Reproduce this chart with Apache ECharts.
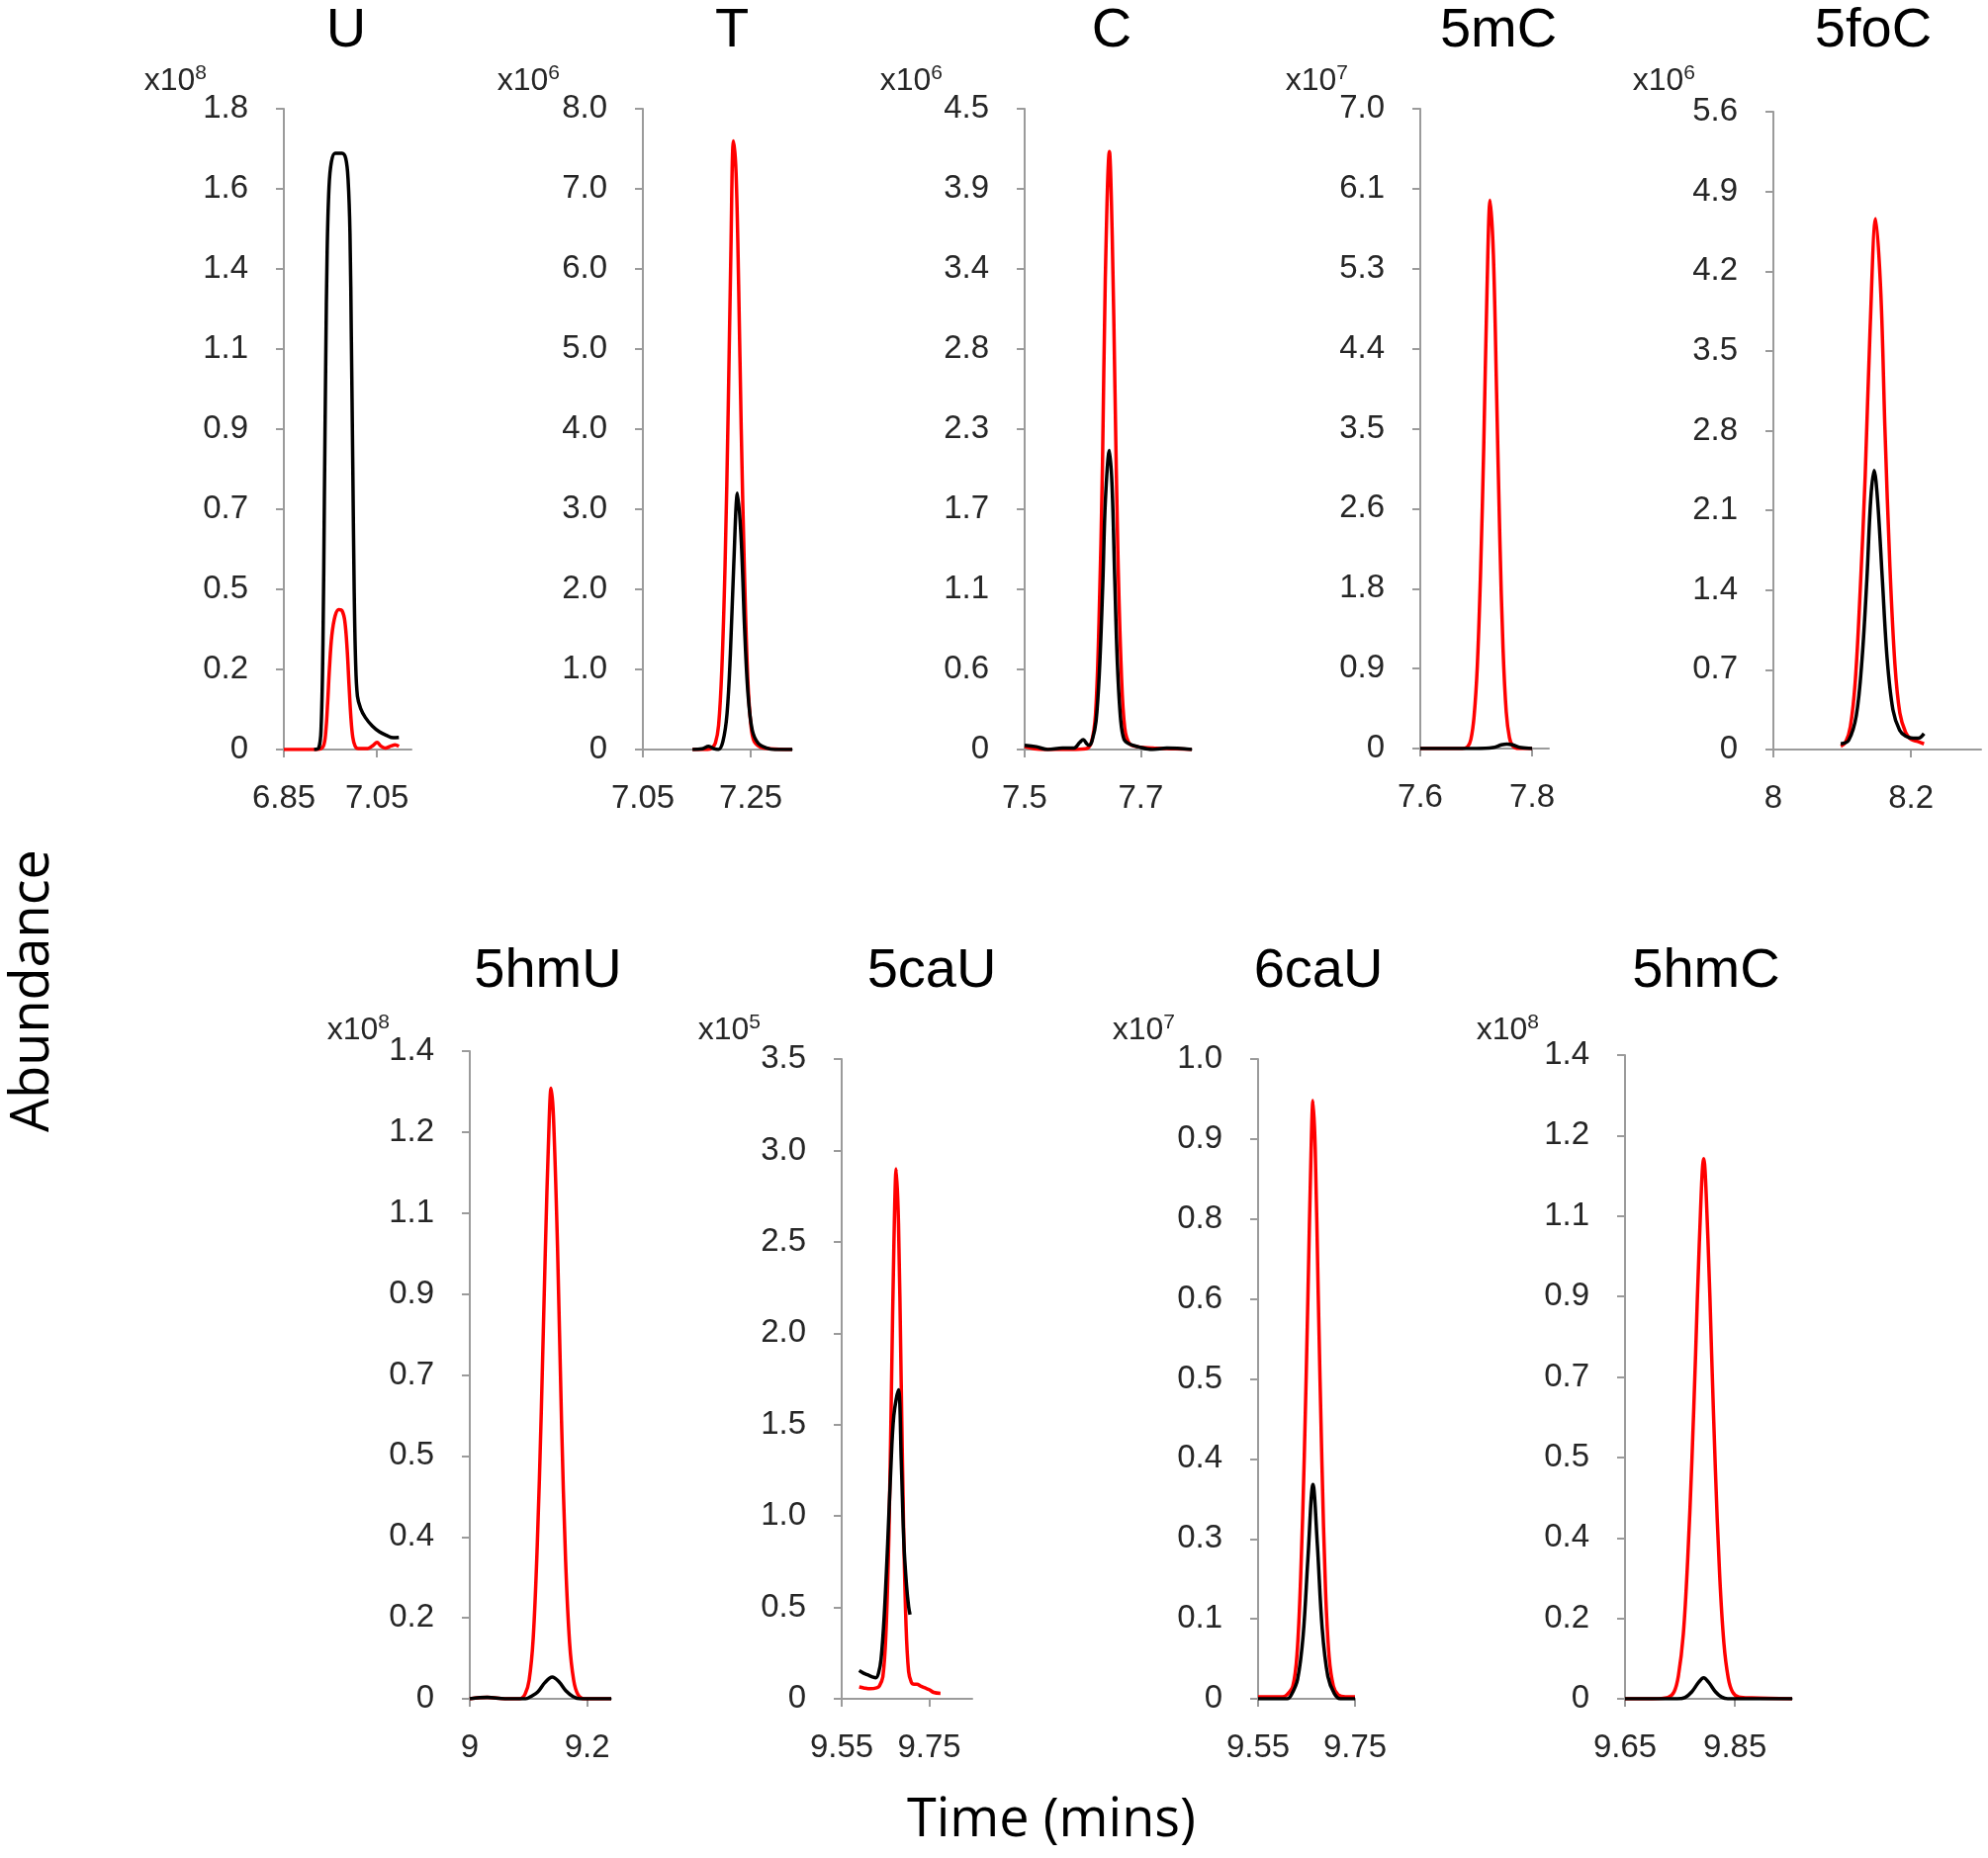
<!DOCTYPE html>
<html><head><meta charset="utf-8">
<script src="https://cdn.jsdelivr.net/npm/echarts@6/dist/echarts.min.js"></script>
<style>html,body{margin:0;padding:0;background:#fff;}#c{width:2010px;height:1879px;}</style>
</head><body><div id="c"></div>
<script>
// ---------- DATA (time in mins, abundance in units of the panel's x10^n) ----------
const panelNames = ['U','T','C','5mC','5foC','5hmU','5caU','6caU','5hmC'];
const exponents  = [8,6,6,7,6,8,5,7,8];

const yTicks_U    = ['0','0.2','0.5','0.7','0.9','1.1','1.4','1.6','1.8'];
const yTicks_T    = ['0','1.0','2.0','3.0','4.0','5.0','6.0','7.0','8.0'];
const yTicks_C    = ['0','0.6','1.1','1.7','2.3','2.8','3.4','3.9','4.5'];
const yTicks_5mC  = ['0','0.9','1.8','2.6','3.5','4.4','5.3','6.1','7.0'];
const yTicks_5foC = ['0','0.7','1.4','2.1','2.8','3.5','4.2','4.9','5.6'];
const yTicks_5hmU = ['0','0.2','0.4','0.5','0.7','0.9','1.1','1.2','1.4'];
const yTicks_5caU = ['0','0.5','1.0','1.5','2.0','2.5','3.0','3.5'];
const yTicks_6caU = ['0','0.1','0.3','0.4','0.5','0.6','0.8','0.9','1.0'];
const yTicks_5hmC = ['0','0.2','0.4','0.5','0.7','0.9','1.1','1.2','1.4'];
const yMax = [1.8, 8.0, 4.5, 7.0, 5.6, 1.4, 3.5, 1.0, 1.4];

const xTicks_U    = ['6.85','7.05'];
const xTicks_T    = ['7.05','7.25'];
const xTicks_C    = ['7.5','7.7'];
const xTicks_5mC  = ['7.6','7.8'];
const xTicks_5foC = ['8','8.2'];
const xTicks_5hmU = ['9','9.2'];
const xTicks_5caU = ['9.55','9.75'];
const xTicks_6caU = ['9.55','9.75'];
const xTicks_5hmC = ['9.65','9.85'];
const xMax = [7.124, 7.327, 7.788, 7.83, 8.302, 9.241, 9.848, 9.75, 9.954];

const U_red = [[6.85,0],[6.9,0],[6.925,0.001],[6.935,0.01],[6.94,0.05],[6.944,0.13],[6.948,0.23],[6.953,0.32],[6.96,0.375],[6.968,0.393],[6.975,0.39],[6.981,0.36],[6.986,0.28],[6.99,0.18],[6.994,0.09],[6.998,0.035],[7.003,0.01],[7.01,0.003],[7.03,0.003],[7.042,0.012],[7.05,0.02],[7.058,0.01],[7.068,0.004],[7.08,0.01],[7.089,0.013],[7.097,0.009]];
const U_black = [[6.915,0],[6.925,0.005],[6.93,0.06],[6.934,0.3],[6.937,0.7],[6.94,1.1],[6.943,1.4],[6.947,1.58],[6.952,1.65],[6.96,1.675],[6.975,1.675],[6.983,1.66],[6.988,1.6],[6.992,1.45],[6.995,1.15],[6.998,0.8],[7.001,0.45],[7.004,0.25],[7.008,0.15],[7.015,0.115],[7.025,0.09],[7.04,0.066],[7.055,0.05],[7.07,0.04],[7.085,0.033],[7.097,0.034]];

const T_red = [[7.142,0],[7.17,0],[7.178,0.02],[7.1844,0.08],[7.1904,0.3],[7.1964,1.0],[7.2024,2.3],[7.2084,4.3],[7.2132,6.2],[7.218,7.6],[7.2228,7.2],[7.2276,5.8],[7.2324,4.0],[7.2384,2.2],[7.2444,0.9],[7.2504,0.3],[7.2564,0.1],[7.2684,0.03],[7.285,0.01],[7.327,0]];
const T_black = [[7.142,0],[7.16,0.01],[7.172,0.04],[7.182,0.01],[7.19,0],[7.1984,0.1],[7.2061,0.45],[7.2123,1.2],[7.2185,2.3],[7.2255,3.2],[7.2325,2.6],[7.2387,1.5],[7.2449,0.7],[7.2526,0.25],[7.2636,0.08],[7.2791,0.02],[7.295,0],[7.327,0]];

const C_red = [[7.5,0.02],[7.53,0],[7.58,0],[7.605,0.005],[7.6149,0.05],[7.6221,0.25],[7.6281,0.9],[7.6341,2.0],[7.6389,3.3],[7.646,4.2],[7.6509,3.6],[7.6557,2.5],[7.6605,1.4],[7.6665,0.55],[7.6725,0.15],[7.6809,0.04],[7.695,0.02],[7.72,0.01],[7.76,0.005],[7.788,0]];
const C_black = [[7.5,0.03],[7.52,0.02],[7.54,0],[7.565,0.01],[7.585,0.01],[7.595,0.05],[7.601,0.07],[7.607,0.04],[7.611,0.03],[7.6161,0.06],[7.623,0.2],[7.6288,0.55],[7.6345,1.15],[7.6391,1.75],[7.646,2.1],[7.6506,1.85],[7.6552,1.2],[7.6598,0.6],[7.6656,0.2],[7.6713,0.07],[7.68,0.04],[7.695,0.02],[7.72,0],[7.745,0.01],[7.788,0]];

const mC_red = [[7.6,0],[7.675,0],[7.6847,0.02],[7.6905,0.1],[7.6962,0.35],[7.702,0.9],[7.7077,1.9],[7.7135,3.3],[7.7193,5.0],[7.725,6.0],[7.7308,5.4],[7.7365,3.9],[7.7423,2.3],[7.748,1.1],[7.7538,0.4],[7.7595,0.12],[7.7653,0.03],[7.7768,0],[7.8,0]];
const mC_black = [[7.6,0],[7.7,0],[7.73,0.01],[7.745,0.04],[7.755,0.05],[7.765,0.04],[7.78,0.01],[7.8,0]];

const foC_red = [[8.098,0.03],[8.1047,0.06],[8.1119,0.2],[8.1191,0.6],[8.1263,1.4],[8.1335,2.4],[8.1407,3.7],[8.1487,4.66],[8.1563,4.0],[8.1623,2.8],[8.1695,1.6],[8.1767,0.75],[8.1839,0.32],[8.1923,0.15],[8.2,0.09],[8.21,0.07],[8.219,0.05]];
const foC_black = [[8.098,0.05],[8.1094,0.08],[8.1206,0.3],[8.129,0.8],[8.136,1.5],[8.1416,2.2],[8.1465,2.45],[8.1514,2.2],[8.1584,1.5],[8.1654,0.8],[8.1738,0.35],[8.1836,0.17],[8.192,0.12],[8.203,0.1],[8.211,0.1],[8.219,0.14]];

const hmU_red = [[9.0,0],[9.03,0.003],[9.06,0],[9.085,0],[9.0942,0.01],[9.1011,0.04],[9.108,0.13],[9.1149,0.33],[9.1218,0.62],[9.1287,0.97],[9.1345,1.22],[9.1385,1.32],[9.1425,1.26],[9.1494,0.98],[9.1563,0.6],[9.1632,0.3],[9.1701,0.12],[9.177,0.04],[9.184,0.01],[9.195,0],[9.241,0]];
const hmU_black = [[9.0,0],[9.03,0.003],[9.06,0],[9.095,0],[9.1039,0.005],[9.1159,0.015],[9.1279,0.035],[9.1405,0.047],[9.1519,0.037],[9.1639,0.017],[9.1759,0.005],[9.188,0],[9.241,0]];

const caU_red = [[9.59,0.065],[9.6,0.06],[9.615,0.055],[9.63,0.06],[9.636,0.07],[9.644,0.12],[9.6509,0.35],[9.6578,0.9],[9.6636,1.7],[9.6693,2.5],[9.6745,2.9],[9.6797,2.6],[9.6854,1.8],[9.6912,0.95],[9.6969,0.4],[9.7027,0.15],[9.709,0.09],[9.715,0.08],[9.722,0.08],[9.73,0.07],[9.74,0.06],[9.75,0.05],[9.76,0.035],[9.7755,0.03]];
const caU_black = [[9.59,0.155],[9.6,0.14],[9.61,0.13],[9.62,0.12],[9.628,0.115],[9.634,0.14],[9.64,0.22],[9.647,0.45],[9.655,0.85],[9.662,1.25],[9.669,1.55],[9.6795,1.69],[9.686,1.3],[9.692,0.85],[9.698,0.62],[9.703,0.5],[9.706,0.46]];

const c6aU_red = [[9.55,0.003],[9.6,0.003],[9.609,0.006],[9.6217,0.02],[9.6304,0.07],[9.6379,0.19],[9.6454,0.38],[9.6529,0.63],[9.6592,0.85],[9.6633,0.935],[9.6679,0.86],[9.6742,0.63],[9.6817,0.37],[9.6892,0.17],[9.6967,0.065],[9.7054,0.02],[9.7155,0.006],[9.73,0.003],[9.75,0.003]];
const c6aU_black = [[9.55,0],[9.61,0],[9.6178,0.005],[9.6314,0.03],[9.6431,0.1],[9.6529,0.22],[9.6633,0.335],[9.6724,0.24],[9.6823,0.11],[9.694,0.035],[9.7075,0.008],[9.72,0],[9.75,0]];

const hmC_red = [[9.65,0],[9.7,0],[9.728,0.003],[9.7392,0.015],[9.7471,0.05],[9.756,0.14],[9.7639,0.3],[9.7717,0.52],[9.7784,0.75],[9.7851,0.99],[9.7931,1.175],[9.8008,1.0],[9.8075,0.75],[9.8143,0.5],[9.8221,0.27],[9.8299,0.12],[9.8378,0.045],[9.8456,0.015],[9.857,0.004],[9.88,0.002],[9.954,0]];
const hmC_black = [[9.65,0],[9.745,0],[9.7594,0.003],[9.7714,0.015],[9.7834,0.035],[9.793,0.0456],[9.8026,0.035],[9.8146,0.015],[9.8254,0.004],[9.837,0],[9.954,0]];

// ---------- LAYOUT ----------
const yTickSets = [yTicks_U,yTicks_T,yTicks_C,yTicks_5mC,yTicks_5foC,yTicks_5hmU,yTicks_5caU,yTicks_6caU,yTicks_5hmC];
const xTickSets = [xTicks_U,xTicks_T,xTicks_C,xTicks_5mC,xTicks_5foC,xTicks_5hmU,xTicks_5caU,xTicks_6caU,xTicks_5hmC];
const redSets = [U_red,T_red,C_red,mC_red,foC_red,hmU_red,caU_red,c6aU_red,hmC_red];
const blackSets = [U_black,T_black,C_black,mC_black,foC_black,hmU_black,caU_black,c6aU_black,hmC_black];

const grids = [
  {left:287, top:110, width:129, height:648},
  {left:650, top:110, width:151, height:648},
  {left:1036, top:110, width:169, height:648},
  {left:1436, top:110, width:130, height:647},
  {left:1793, top:113, width:210, height:645},
  {left:475, top:1063, width:143, height:655},
  {left:851, top:1071, width:132, height:647},
  {left:1272, top:1071, width:98, height:647},
  {left:1643, top:1067, width:169, height:651}
];
const titlePos = [[350,32],[740,32],[1124,32],[1515,32],[1894,32],[554,983],[942,983],[1333,983],[1725,983]];
const expPos = [[209,82],[566,82],[953,82],[1363,82],[1714,82],[394,1042],[769,1042],[1188,1042],[1556,1042]];

const FONT = '"Liberation Sans", Arial, sans-serif';
const AXC = '#9b9b9b';
const LBL = '#262626';

const option = {
  animation: false,
  backgroundColor: '#fff',
  grid: [], xAxis: [], yAxis: [], series: [], graphic: []
};

panelNames.forEach((name, i) => {
  const g = grids[i];
  option.grid.push({left:g.left, top:g.top, width:g.width, height:g.height, containLabel:false, outerBoundsMode:'none'});
  const xt = xTickSets[i].map(Number);
  const xl = xTickSets[i];
  option.xAxis.push({
    type:'value', gridIndex:i, min:xt[0], max:xMax[i],
    axisLine:{show:true, onZero:false, lineStyle:{color:AXC, width:2}},
    axisTick:{show:true, length:8, inside:false, lineStyle:{color:AXC, width:2}, customValues:xt},
    axisLabel:{show:true, margin:33, color:LBL, fontSize:33, fontFamily:FONT, customValues:xt,
      formatter:(v)=>{ const k = xt.findIndex(t=>Math.abs(t-v)<1e-6); return k>=0 ? xl[k] : ''; }},
    splitLine:{show:false}
  });
  const yl = yTickSets[i];
  const n = yl.length - 1;
  const yv = yl.map((_,k)=> yMax[i]*k/n);
  option.yAxis.push({
    type:'value', gridIndex:i, min:0, max:yMax[i],
    axisLine:{show:true, lineStyle:{color:AXC, width:2}},
    axisTick:{show:true, length:8, inside:false, lineStyle:{color:AXC, width:2}, customValues:yv},
    axisLabel:{show:true, margin:36, color:LBL, fontSize:33, fontFamily:FONT, customValues:yv,
      formatter:(v)=>{ const k = Math.round(v/yMax[i]*n); return yl[k] !== undefined ? yl[k] : ''; }},
    splitLine:{show:false}
  });
  option.series.push({
    type:'line', xAxisIndex:i, yAxisIndex:i, data:redSets[i], showSymbol:false, symbol:'none',
    smooth:0.35, lineStyle:{color:'#ff0000', width:3.5}, z:2
  });
  option.series.push({
    type:'line', xAxisIndex:i, yAxisIndex:i, data:blackSets[i], showSymbol:false, symbol:'none',
    smooth:0.35, lineStyle:{color:'#000000', width:3.5}, z:3
  });
  option.graphic.push({type:'text', x:titlePos[i][0], y:titlePos[i][1],
    style:{text:name, fontSize:56, fontFamily:FONT, fill:'#000', align:'center', verticalAlign:'middle'}});
  option.graphic.push({type:'text', x:expPos[i][0], y:expPos[i][1],
    style:{text:'{m|x10}{s|' + exponents[i] + '}', align:'right', verticalAlign:'middle',
      rich:{m:{fontSize:32, fontFamily:FONT, fill:'#262626', lineHeight:36},
            s:{fontSize:21, fontFamily:FONT, fill:'#262626', verticalAlign:'top', lineHeight:22}}}});
});

option.graphic.push({type:'text', x:34, y:1002, rotation:Math.PI/2,
  style:{text:'Abundance', fontSize:54, fontFamily:'"Open Sans", sans-serif', fill:'#000', align:'center', verticalAlign:'middle'}});
option.graphic.push({type:'text', x:1063, y:1842,
  style:{text:'Time (mins)', fontSize:54, fontFamily:'"Open Sans", sans-serif', fill:'#000', align:'center', verticalAlign:'middle'}});

const chart = echarts.init(document.getElementById('c'), null, {renderer:'canvas'});
chart.setOption(option);
</script>
</body></html>
